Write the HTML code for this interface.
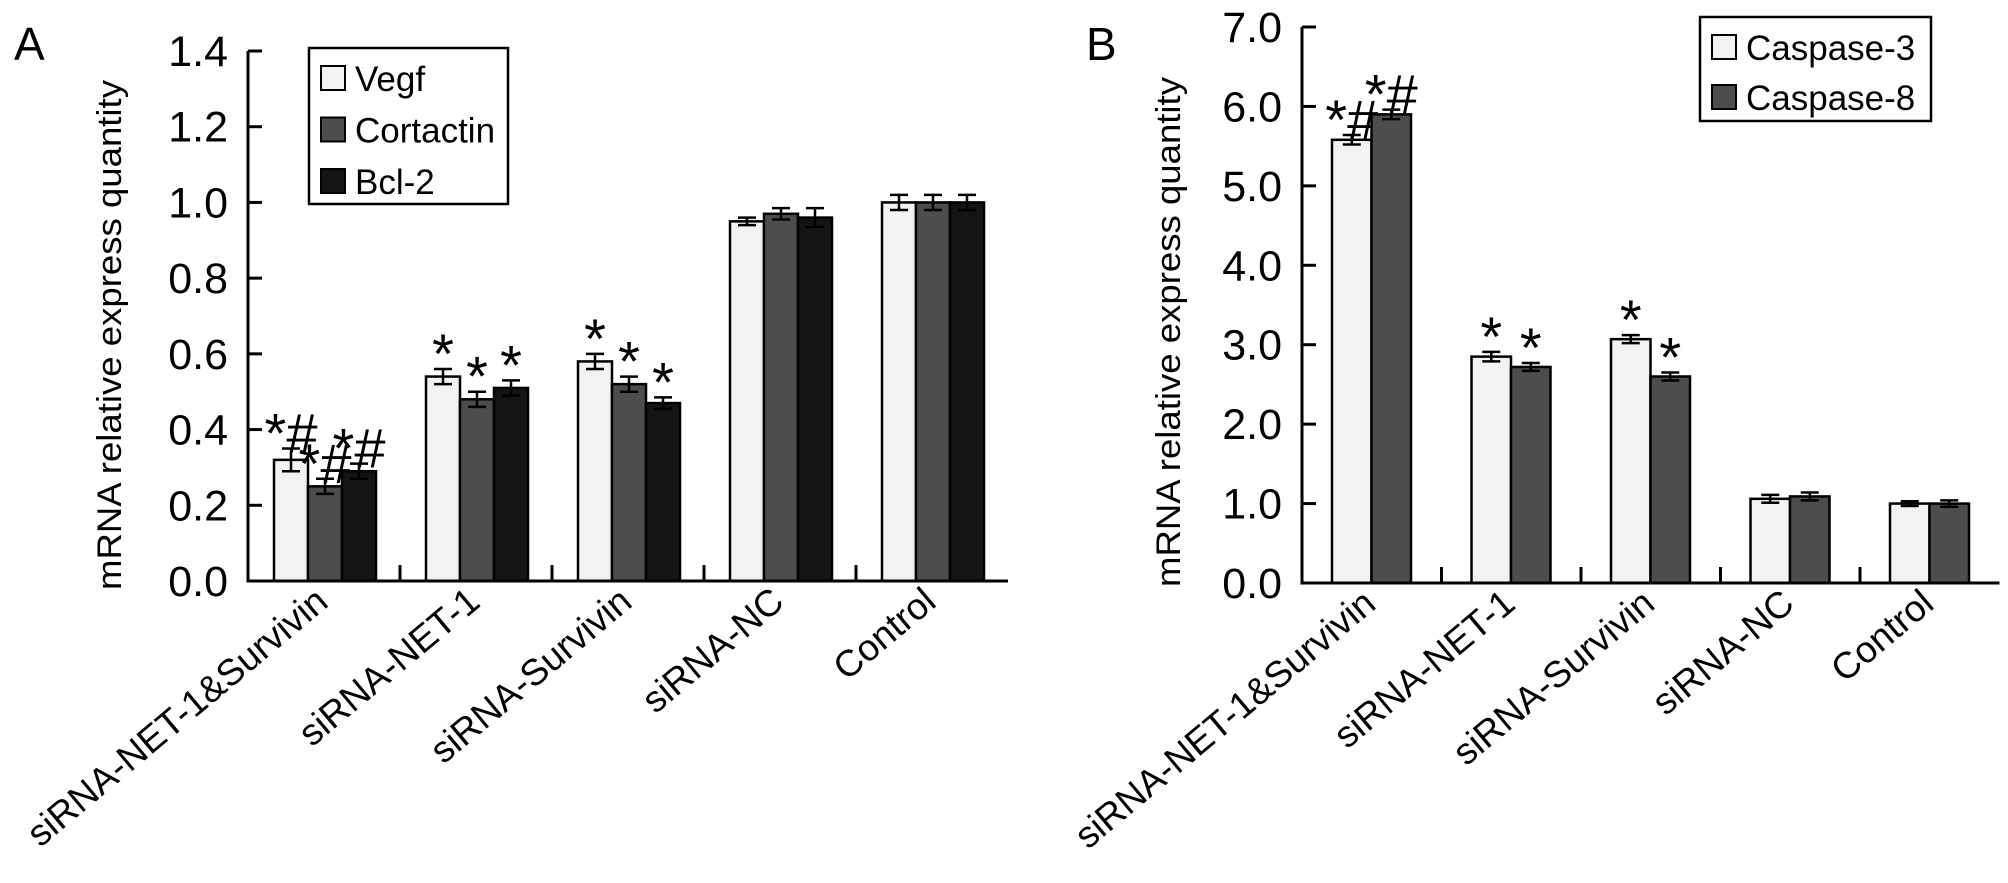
<!DOCTYPE html>
<html><head><meta charset="utf-8"><style>
body{margin:0;background:#fff;overflow:hidden}
svg{display:block}
text{font-family:"Liberation Sans",sans-serif;fill:#000}
</style></head><body>
<svg id="fig" width="2008" height="883" viewBox="0 0 2008 883" xmlns="http://www.w3.org/2000/svg"></svg>
<script>
const categories = ["siRNA-NET-1&Survivin","siRNA-NET-1","siRNA-Survivin","siRNA-NC","Control"];
const vegf = [0.32,0.54,0.58,0.95,1.00];
const vegfErr = [0.03,0.02,0.02,0.01,0.02];
const cortactin = [0.25,0.48,0.52,0.97,1.00];
const cortactinErr = [0.02,0.02,0.02,0.015,0.02];
const bcl2 = [0.29,0.51,0.47,0.96,1.00];
const bcl2Err = [0.02,0.02,0.015,0.025,0.02];
const sigA = ["*#","*","*","",""];
const ticksA = [0,0.2,0.4,0.6,0.8,1.0,1.2,1.4];
const casp3 = [5.58,2.85,3.07,1.06,1.00];
const casp3Err = [0.06,0.06,0.05,0.05,0.03];
const casp8 = [5.90,2.72,2.60,1.09,1.00];
const casp8Err = [0.06,0.05,0.05,0.05,0.04];
const sigB = ["*#","*","*","",""];
const ticksB = [0,1,2,3,4,5,6,7];

const NS="http://www.w3.org/2000/svg";
const svg=document.getElementById('fig');
function mk(tag,attrs,parent){const e=document.createElementNS(NS,tag);for(const k in attrs)e.setAttribute(k,attrs[k]);(parent||svg).appendChild(e);return e;}
function txt(parent,x,y,str,size,anchor,extra){
  const t=mk('text',{x:0,y:0,'font-size':size,'text-anchor':anchor||'start',transform:`translate(${x},${y}) ${extra||''}`},parent);
  t.textContent=str;return t;
}

function panel(cfg){
  const g=mk('g',{});
  
  
  const y=v=>cfg.y0-(v-cfg.min)/(cfg.max-cfg.min)*(cfg.y0-cfg.yTop);
  const gw=cfg.groupW;
  const L=txt(g,cfg.letterX,cfg.letterY,cfg.letter,46,'start');
  
  
  const yt=mk('text',{x:0,y:0,'font-size':34,'text-anchor':'middle',textLength:510,lengthAdjust:'spacingAndGlyphs',transform:`translate(${cfg.titleX},${cfg.titleY}) rotate(-90)`},g);
  yt.textContent='mRNA relative express quantity';
  
  
  cfg.series.forEach((s,si)=>{
    s.vals.forEach((v,i)=>{
      const x=cfg.x0+i*gw+cfg.barOff+si*cfg.barW;
      const r=mk('rect',{x:x,y:y(v),width:cfg.barW,height:y(cfg.min)-y(v),fill:s.color,stroke:'#000','stroke-width':2.5},g);
      
      
      const cx=x+cfg.barW/2, e=s.err[i];
      const eb=mk('path',{d:`M${cx} ${y(v-e)}V${y(v+e)}M${cx-9} ${y(v-e)}H${cx+9}M${cx-9} ${y(v+e)}H${cx+9}`,stroke:'#000','stroke-width':2.5,fill:'none'},g);
      
      
      if(cfg.sig[i]){
        const t=mk('text',{x:cx,y:y(v+e)+4,'font-size':56,'text-anchor':'middle'},g);
        t.textContent=cfg.sig[i];
        
        
      }
    });
  });
  const ax=mk('path',{d:`M${cfg.x0} ${cfg.yTop}V${cfg.y0}H${cfg.x0+5*gw}`,stroke:'#000','stroke-width':3,fill:'none'},g);
  
  
  cfg.ticks.forEach(t=>{
    mk('line',{x1:cfg.x0,x2:cfg.x0+14,y1:y(t),y2:y(t),stroke:'#000','stroke-width':3},g);
    const tl=txt(g,cfg.x0-20,y(t)+15,t.toFixed(1),43,'end');
    
    
  });
  for(let i=1;i<5;i++) mk('line',{x1:cfg.x0+i*gw,x2:cfg.x0+i*gw,y1:cfg.y0,y2:cfg.y0-16,stroke:'#000','stroke-width':3},g);
  categories.forEach((c,i)=>{
    const cx=cfg.x0+i*gw+gw/2+6;
    const t=mk('text',{x:0,y:0,'font-size':37,'text-anchor':'end',transform:`translate(${cx},${cfg.y0+24}) rotate(-40)`},g);
    t.textContent=c;
    
    
  });
  const lg=mk('g',{},g);
  
  
  mk('rect',{x:cfg.leg.x,y:cfg.leg.y,width:cfg.leg.w,height:cfg.leg.h,fill:'#fff',stroke:'#000','stroke-width':2.5},lg);
  cfg.series.forEach((s,si)=>{
    const ry=cfg.leg.row0+si*cfg.leg.step;
    const e=mk('g',{},lg);
    
    
    mk('rect',{x:cfg.leg.x+12,y:ry-12,width:24,height:24,fill:s.color,stroke:'#000','stroke-width':2},e);
    txt(e,cfg.leg.x+46,ry+13,s.label,35,'start');
  });
}
panel({name:'chart-a',letter:'A',letterX:14,letterY:60,titleX:121,titleY:335,x0:248,y0:581,yTop:51,min:0,max:1.4,groupW:152,barOff:26,barW:34,
  ticks:ticksA,sig:sigA,
  series:[{key:'vegf',label:'Vegf',vals:vegf,err:vegfErr,color:'#f2f2f2'},
          {key:'cortactin',label:'Cortactin',vals:cortactin,err:cortactinErr,color:'#4d4d4d'},
          {key:'bcl2',label:'Bcl-2',vals:bcl2,err:bcl2Err,color:'#141414'}],
  leg:{x:309,y:48,w:199,h:156,row0:78,step:51.5}});
panel({name:'chart-b',letter:'B',letterX:1086,letterY:60,titleX:1180,titleY:332,x0:1302,y0:583,yTop:27,min:0,max:7,groupW:139.5,barOff:30,barW:39.5,
  ticks:ticksB,sig:sigB,
  series:[{key:'caspase3',label:'Caspase-3',vals:casp3,err:casp3Err,color:'#f2f2f2'},
          {key:'caspase8',label:'Caspase-8',vals:casp8,err:casp8Err,color:'#4d4d4d'}],
  leg:{x:1700,y:17,w:231,h:104,row0:47,step:50}});
</script>
</body></html>
